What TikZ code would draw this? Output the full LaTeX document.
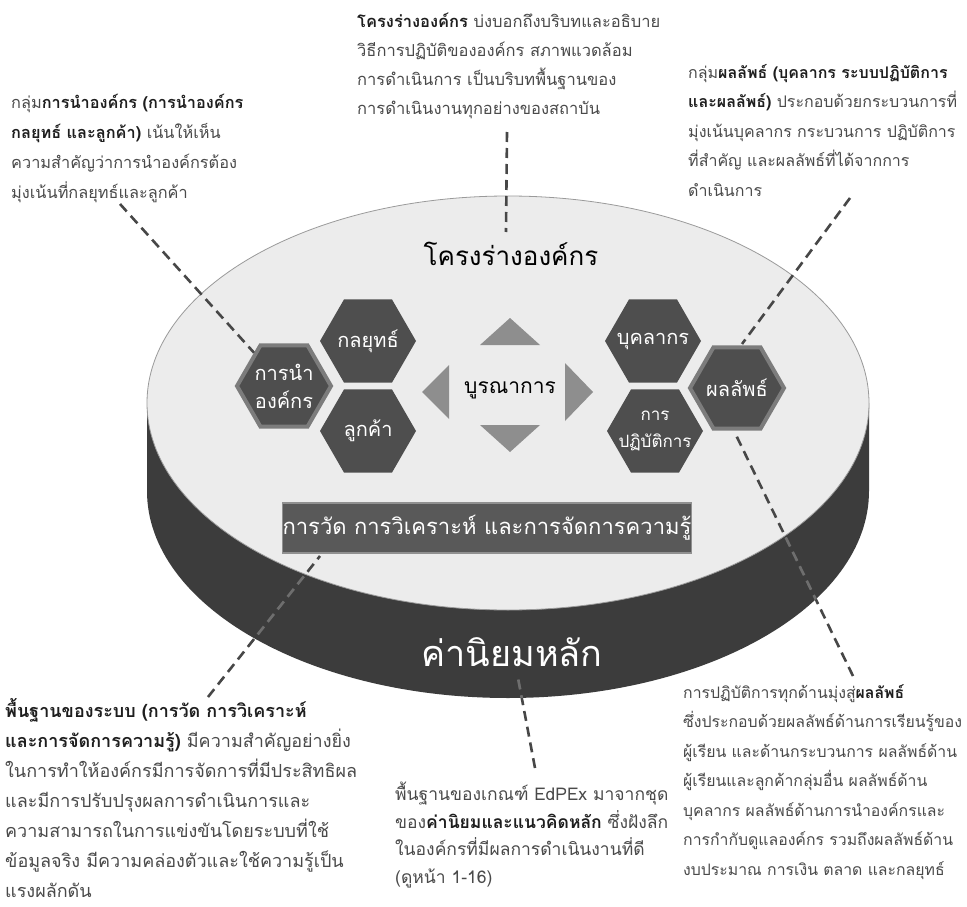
\documentclass[tikz,border=0pt]{standalone}
\usepackage{fontspec}
\setmainfont[Script=Thai]{Loma}
\usetikzlibrary{shapes.geometric}
\definecolor{topface}{HTML}{ECECEC}
\definecolor{topedge}{HTML}{9A9A9A}
\definecolor{body}{HTML}{3C3C3C}
\definecolor{hexfill}{HTML}{4E4E4E}
\definecolor{hexedge}{HTML}{7C7C7C}
\definecolor{trifill}{HTML}{8E8E8E}
\definecolor{barfill}{HTML}{595959}
\definecolor{baredge}{HTML}{909090}
\definecolor{txtreg}{HTML}{4A4A4A}
\definecolor{txtbold}{HTML}{1E1E1E}
\definecolor{dashdark}{HTML}{474747}
\definecolor{dashlight}{HTML}{6E6E6E}
\newcommand{\bt}[1]{\textbf{\color{txtbold}#1}}
\begin{document}
\begin{tikzpicture}[x=1pt,y=-1pt,
  txt/.style={anchor=north west, inner sep=0pt, align=left, text=txtreg},
  hexa/.style={regular polygon, regular polygon sides=6, minimum size=96pt,
    inner sep=-40pt, fill=hexfill, text=white, align=center,
    font=\fontsize{20}{28}\selectfont},
  hexb/.style={hexa, draw=hexedge, line width=4pt, minimum size=94pt},
  dl/.style={dashdark, line width=2.6pt, dash pattern=on 10pt off 6pt},
  dlight/.style={dashlight, line width=2.6pt, dash pattern=on 10pt off 6pt},
  bar/.style={rectangle, fill=barfill, draw=baredge, line width=1.5pt,
    minimum width=409pt, minimum height=50pt, inner sep=0pt, text=white,
    font=\fontsize{22}{26}\selectfont}
]
\useasboundingbox (0,0) rectangle (967,907);
\fill[white] (0,0) rectangle (967,907);

% ---- text blocks
\node[txt, font=\fontsize{16.3}{30}\selectfont] (tl) at (11,94) {กลุ่ม\bt{การนำองค์กร (การนำองค์กร}\\
\bt{กลยุทธ์ และลูกค้า)} เน้นให้เห็น\\
ความสำคัญว่าการนำองค์กรต้อง\\
มุ่งเน้นที่กลยุทธ์และลูกค้า};

\node[txt, font=\fontsize{16.5}{29}\selectfont] (tc) at (357,13) {\bt{โครงร่างองค์กร} บ่งบอกถึงบริบทและอธิบาย\\
วิธีการปฏิบัติขององค์กร สภาพแวดล้อม\\
การดำเนินการ เป็นบริบทพื้นฐานของ\\
การดำเนินงานทุกอย่างของสถาบัน};

\node[txt, font=\fontsize{16}{29.5}\selectfont] (tr) at (688,64) {กลุ่ม\bt{ผลลัพธ์ (บุคลากร ระบบปฏิบัติการ}\\
\bt{และผลลัพธ์)} ประกอบด้วยกระบวนการที่\\
มุ่งเน้นบุคลากร กระบวนการ ปฏิบัติการ\\
ที่สำคัญ และผลลัพธ์ที่ได้จากการ\\
ดำเนินการ};

\node[txt, font=\fontsize{18}{30}\selectfont] (bl) at (5,698) {\bt{พื้นฐานของระบบ (การวัด การวิเคราะห์}\\
\bt{และการจัดการความรู้)} มีความสำคัญอย่างยิ่ง\\
ในการทำให้องค์กรมีการจัดการที่มีประสิทธิผล\\
และมีการปรับปรุงผลการดำเนินการและ\\
ความสามารถในการแข่งขันโดยระบบที่ใช้\\
ข้อมูลจริง มีความคล่องตัวและใช้ความรู้เป็น\\
แรงผลักดัน};

\node[txt, font=\fontsize{17.5}{27.5}\selectfont] (bc) at (395,782) {พื้นฐานของเกณฑ์ EdPEx มาจากชุด\\
ของ\bt{ค่านิยมและแนวคิดหลัก} ซึ่งฝังลึก\\
ในองค์กรที่มีผลการดำเนินงานที่ดี\\
(ดูหน้า 1-16)};

\node[txt, font=\fontsize{15.8}{29.5}\selectfont] (br) at (683,684) {การปฏิบัติการทุกด้านมุ่งสู่\bt{ผลลัพธ์}\\
ซึ่งประกอบด้วยผลลัพธ์ด้านการเรียนรู้ของ\\
ผู้เรียน และด้านกระบวนการ ผลลัพธ์ด้าน\\
ผู้เรียนและลูกค้ากลุ่มอื่น ผลลัพธ์ด้าน\\
บุคลากร ผลลัพธ์ด้านการนำองค์กรและ\\
การกำกับดูแลองค์กร รวมถึงผลลัพธ์ด้าน\\
งบประมาณ การเงิน ตลาด และกลยุทธ์};

% ---- connector end points
\coordinate (pTL) at (120,204);
\coordinate (pTC) at (507,132);
\coordinate (eTC) at (506,232);
\coordinate (pTR) at (850,198);
\coordinate (eTR) at (742,344);
\coordinate (sRL) at (735,433);
\coordinate (pRL) at (853,676);
\coordinate (sBL) at (320,556);
\coordinate (pBL) at (208,697);
\coordinate (sBC) at (518,678);
\coordinate (pBC) at (535,768);

% ---- cylinder body
\fill[body] (147,403) -- (147,491)
  arc[start angle=180, end angle=0, x radius=361, y radius=207] -- (869,403) -- cycle;
\fill[body] (147,403) rectangle (869,491);

% dashed connectors on white / body (underneath)
\draw[dl] (pRL) -- (sRL);
\draw[dl] (pBL) -- (sBL);
\draw[dl] (pBC) -- (sBC);
\begin{scope}
  \clip (147,403) -- (147,491)
    arc[start angle=180, end angle=0, x radius=361, y radius=207] -- (869,403) -- cycle;
  \draw[dlight] (pRL) -- (sRL);
  \draw[dlight] (pBL) -- (sBL);
  \draw[dlight] (pBC) -- (sBC);
\end{scope}

% ---- top face
\filldraw[fill=topface, draw=topedge, line width=0.8pt] (508,403) ellipse [x radius=361, y radius=207];

% ---- hexagons
\node[hexa] (str) at (368,341) {กลยุทธ์};
\node[hexa] (cus) at (368,431) {ลูกค้า};
\node[hexb] (lead) at (284,386) {การนำ\\องค์กร};
\node[hexa] (wf) at (653,341) {บุคลากร};
\node[hexa, font=\fontsize{17}{27}\selectfont] (ops) at (655,431) {การ\\ปฏิบัติการ};

% ---- dashed connectors over top face
\draw[dl] (pTL) -- (lead);
\draw[dl] (pTC) -- (eTC);
\draw[dl] (pTR) -- (eTR);
\begin{scope}
  \clip (508,403) ellipse [x radius=361, y radius=207];
  \draw[dl] (pRL) -- (sRL);
  \draw[dl] (pBL) -- (sBL);
\end{scope}
\node[hexb] (res) at (737,388) {ผลลัพธ์};

% ---- triangles
\fill[trifill] (480,345) -- (540,345) -- (510,318) -- cycle;
\fill[trifill] (480,425) -- (540,425) -- (510,452) -- cycle;
\fill[trifill] (449,365) -- (449,419) -- (422,392) -- cycle;
\fill[trifill] (565,363) -- (565,421) -- (593,392) -- cycle;

% ---- labels
\node[font=\fontsize{26}{30}\selectfont, text=black] (title) at (511,254) {โครงร่างองค์กร};
\node[font=\fontsize{21}{26}\selectfont, text=black] (integ) at (510,390) {บูรณาการ};
\node[bar] (kb) at (487,528) {การวัด การวิเคราะห์ และการจัดการความรู้};
\node[font=\fontsize{36}{40}\selectfont, text=white] (core) at (512,652) {ค่านิยมหลัก};
\end{tikzpicture}
\end{document}
